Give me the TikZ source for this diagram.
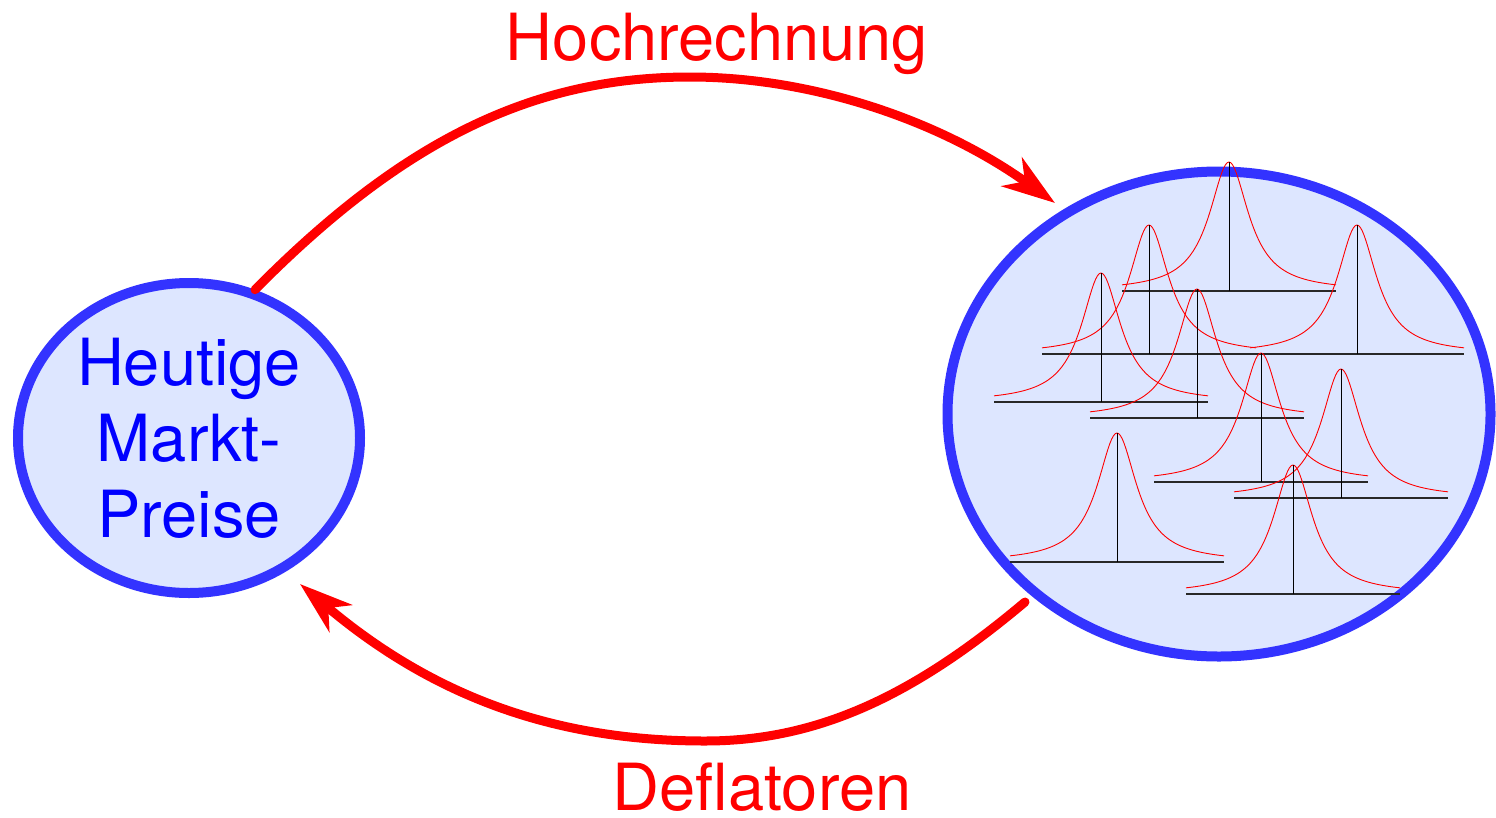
\documentclass[tikz,border=0pt]{standalone}
\usepackage{fontspec}
\setmainfont{TeX Gyre Heros}
\usetikzlibrary{shapes.geometric,arrows.meta}
\definecolor{ringblue}{RGB}{51,51,255}
\definecolor{fillblue}{RGB}{221,230,255}
\definecolor{textblue}{RGB}{0,0,255}
\definecolor{arrowred}{RGB}{255,0,0}
\definecolor{axisgray}{RGB}{40,40,40}
\begin{document}
\begin{tikzpicture}[x=1pt,y=-1pt,
  bubble/.style={ellipse, draw=ringblue, fill=fillblue, line width=10pt, inner sep=0pt},
  flow/.style={draw=arrowred, line width=9pt, line cap=round,
    -{Stealth[length=53pt,width=35pt,inset=16pt]}},
  lbl/.style={text=arrowred, font=\fontsize{65}{76}\selectfont, anchor=base, inner sep=0pt},
  curvestyle/.style={draw=arrowred, line width=0.9pt},
  axisstyle/.style={draw=axisgray, line width=1.4pt},
  stemstyle/.style={draw=black, line width=1pt},
  dist/.pic={
    \draw[curvestyle] plot[domain=-107:107, samples=121] (\x,{-129/(1+(\x/24)^2)});
    \draw[axisstyle] (-107,0) -- (107,0);
    \draw[stemstyle] (0,0) -- (0,-129);
  }
]
\useasboundingbox (0,0) rectangle (1496,817);

\node[bubble, minimum width=342pt, minimum height=310pt, text=textblue,
      align=center, font=\fontsize{65}{76}\selectfont] (L) at (189,438)
      {Heutige\\Markt-\\Preise};
\node[bubble, minimum width=543pt, minimum height=485pt] (R) at (1219,414) {};

\pic (d1) at (1229,291) {dist};
\pic (d2) at (1149,354) {dist};
\pic (d3) at (1357,354) {dist};
\pic (d4) at (1101,402) {dist};
\pic (d5) at (1197,418) {dist};
\pic (d6) at (1261,482) {dist};
\pic (d7) at (1341,498) {dist};
\pic (d8) at (1117,562) {dist};
\pic (d9) at (1293,594) {dist};

\coordinate (t1) at (1055,203);
\coordinate (s2) at (1025,602);
\coordinate (t2) at (300,584);

\draw[flow] (L.66) .. controls (403,140) and (533,77) .. (690,77)
  .. controls (813,77) and (941,121) .. (t1);
\draw[flow] (s2) .. controls (910,699) and (814,741) .. (705,741)
  .. controls (551,741) and (430,694) .. (t2);

\node[lbl] (hoch) at (717,60) {Hochrechnung};
\node[lbl] (defl) at (762,810) {Deflatoren};
\end{tikzpicture}
\end{document}
